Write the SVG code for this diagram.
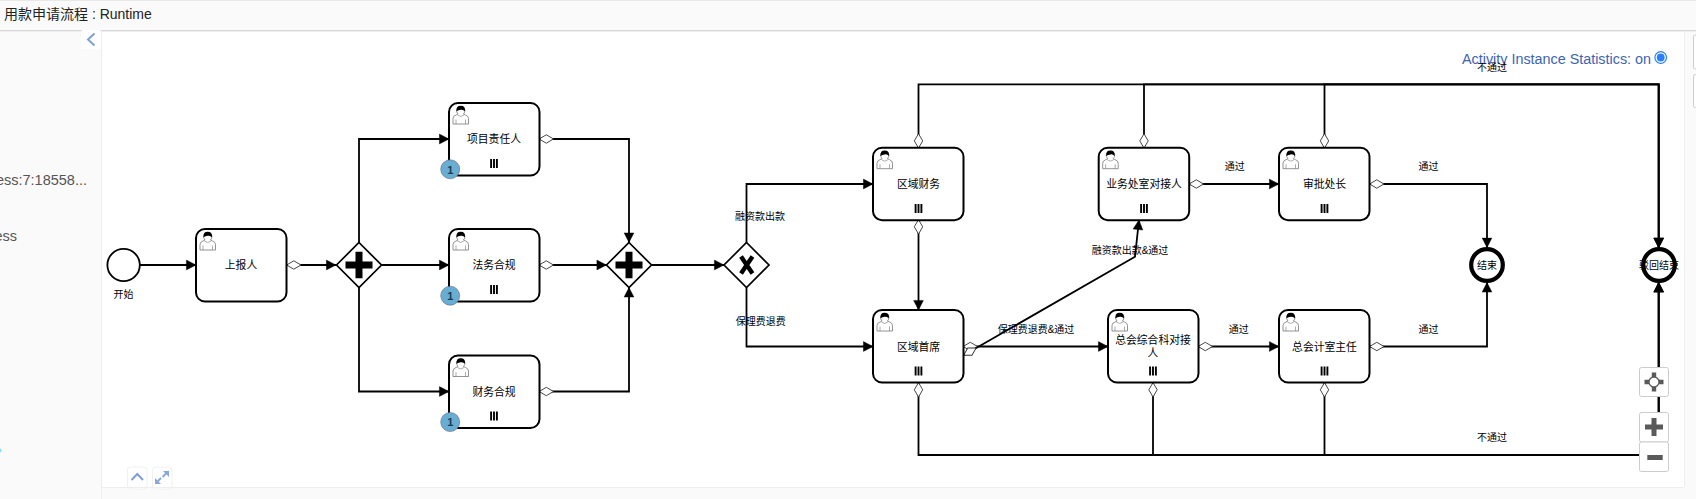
<svg xmlns="http://www.w3.org/2000/svg" xmlns:xlink="http://www.w3.org/1999/xlink" width="1696" height="499" viewBox="0 0 1696 499">
<style>
text{font-family:"Liberation Sans","Noto Sans CJK SC",sans-serif}
.t{font-size:10.8px;text-anchor:middle;dominant-baseline:central;fill:#000}
.l{font-size:10px;text-anchor:middle;dominant-baseline:central;fill:#000}
.box{fill:#fff;stroke:#000;stroke-width:2}
.f{fill:none;stroke:#000;stroke-width:1.8;stroke-linejoin:miter}
.a{marker-end:url(#arr)}
.d{marker-start:url(#dia)}
.gw{fill:#fff;stroke:#000;stroke-width:1.7}
.btn{fill:#fff;stroke:#ccc;stroke-width:1}
.fa{fill:#fff;stroke:#f0f0f0;stroke-width:1}
.chev{fill:none;stroke:#7f9fd8;stroke-width:2}
.panel{fill:#fafafa}
.side{font-size:14.5px;fill:#555}
</style>
<defs>
<marker id="arr" markerUnits="userSpaceOnUse" markerWidth="12" markerHeight="12" refX="10" refY="6" orient="auto" overflow="visible"><path d="M0.4 1.1L10 6L0.4 10.9Z" fill="#000" stroke="#000" stroke-width="0.4"/></marker>
<marker id="dia" markerUnits="userSpaceOnUse" markerWidth="16" markerHeight="10" refX="1" refY="5" orient="auto" overflow="visible"><path d="M0.6 5L7.8 0.8L15 5L7.8 9.2Z" fill="#fff" stroke="#333" stroke-width="0.9"/></marker>
<g id="user">
<path d="M0.5 18V12.5Q0.5 10 3.5 9L5.5 8Q3.8 6 4 4Q4.5 0.5 8.2 0.5Q12 0.5 12.5 4Q12.7 6 11 8L13 9Q16 10 16 12.5V18Z" fill="#fff" stroke="#777" stroke-width="0.8"/>
<path d="M4 5.2Q3.6 -0.2 8.2 -0.2Q12.9 -0.2 12.5 5.2Q10.5 3.2 8.2 3.8Q6 4.2 4 5.2Z" fill="#000"/>
<path d="M3.5 18V13.5M13 18V13.5M5 9Q8 12 11.5 9" fill="none" stroke="#888" stroke-width="0.7"/>
</g>
<g id="pm"><path d="M-2.9 0V9M0 0V9M2.9 0V9" stroke="#000" stroke-width="1.9" fill="none"/></g>
</defs>

<rect width="1696" height="499" fill="#fff"/>
<g id="chrome">
<rect x="0" y="0" width="1696" height="30" class="panel"/>
<rect x="0" y="0" width="1696" height="1" fill="#e8e8e8"/>
<rect x="0" y="30" width="1696" height="1" fill="#d8d8d8"/>
<rect x="0" y="31" width="1696" height="1" fill="#efefef"/>
<rect x="0" y="32" width="101" height="467" class="panel"/>
<rect x="101" y="32" width="1" height="467" fill="#eee"/>
<rect x="102" y="487" width="1582" height="12" class="panel"/>
<rect x="1684" y="32" width="12" height="467" class="panel"/>
<rect x="1684" y="32" width="1" height="455" fill="#eee"/>
<rect x="1693.5" y="35" width="6" height="34" rx="2" class="btn"/>
<rect x="1693.5" y="74.5" width="6" height="33" rx="2" class="btn"/>
<rect x="81" y="30" width="20" height="19" rx="2" fill="#fff"/>
<path class="chev" d="M94.5 33.5L88 39.5L94.5 45.5"/>
<circle cx="-0.5" cy="450.5" r="2" fill="#8ad8ff"/>
<text x="4" y="19" font-size="14" fill="#222">用款申请流程 : Runtime</text>
<text x="87" y="185" text-anchor="end" class="side">ess:7:18558...</text>
<text x="17" y="241" text-anchor="end" class="side">ess</text>
<rect x="127.5" y="467" width="19.5" height="22" rx="3" class="fa"/>
<rect x="152.5" y="467" width="19.5" height="22" rx="3" class="fa"/>
<rect x="102" y="487" width="1582" height="1" fill="#eee"/>
<path class="chev" d="M131.5 480L137.3 474L143 480"/>
<path d="M162.5 477L167 472.5" stroke="#8aa8dc" stroke-width="2" fill="none"/>
<path d="M163 471H169V477Z" fill="#8aa8dc"/>
<path d="M161 478L156.5 482.5" stroke="#8aa8dc" stroke-width="2" fill="none"/>
<path d="M155 478V484H161Z" fill="#8aa8dc"/>
<text x="1462" y="63.5" font-size="14" fill="#3d64b4" textLength="189" lengthAdjust="spacingAndGlyphs">Activity Instance Statistics: on</text>
<circle cx="1660.7" cy="57.5" r="5.8" fill="#fff" stroke="#2a7fff" stroke-width="1.2"/>
<circle cx="1660.7" cy="57.5" r="3.9" fill="#2a7fff"/>
</g>

<g id="connectors">
<path class="f a" d="M140 265H196"/>
<path class="f d a" d="M287 265H336"/>
<path class="f a" d="M359 242.5V139H449"/>
<path class="f a" d="M381.5 265H449"/>
<path class="f a" d="M359 287.5V391.5H449"/>
<path class="f d a" d="M539.5 139H629V242.5"/>
<path class="f d a" d="M539.5 265H606.5"/>
<path class="f d a" d="M539.5 391.5H629V287.5"/>
<path class="f a" d="M651.5 265H724"/>
<path class="f a" d="M746.5 242.5V184H873"/>
<path class="f a" d="M746.5 287.5V346.5H873"/>
<path class="f d a" d="M918.5 220V310"/>
<path class="f d a" d="M963.5 346.5H1108"/>
<path class="f d a" d="M964 355L1135 256.7L1139 220"/>
<path class="f d a" d="M1189.5 184H1279"/>
<path class="f d a" d="M1198.5 346.5H1279"/>
<path class="f d a" d="M1370 184H1487V247.7"/>
<path class="f d a" d="M1370 346.5H1487V282.5"/>
<path class="f d a" d="M918.5 147.7V84.3H1658.7V247.7"/>
<path class="f d a" d="M1144 147.7V84.3H1658.7V247.7"/>
<path class="f d a" d="M1324.5 147.7V84.3H1658.7V247.7"/>
<path class="f d a" d="M918.5 383V455H1658.7V282.5"/>
<path class="f d a" d="M1153 383V455H1658.7V282.5"/>
<path class="f d a" d="M1324.5 383V455H1658.7V282.5"/>
<text class="l" x="760" y="216.7">融资款出款</text>
<text class="l" x="760.7" y="321.7">保理费退费</text>
<text class="l" x="1036" y="329.7">保理费退费&amp;通过</text>
<text class="l" x="1130" y="250.7">融资款出款&amp;通过</text>
<text class="l" x="1234.7" y="166.7">通过</text>
<text class="l" x="1428.5" y="166.7">通过</text>
<text class="l" x="1238.7" y="329.7">通过</text>
<text class="l" x="1428.5" y="329.7">通过</text>
<text class="l" x="1492" y="67.7">不通过</text>
<text class="l" x="1492" y="437.7">不通过</text>
</g>

<g id="start"><circle cx="123.6" cy="265" r="16.2" fill="#fff" stroke="#000" stroke-width="1.8"/><text class="l" x="123.6" y="294">开始</text></g>

<g id="task-report"><rect class="box" x="196" y="229" width="90.5" height="72.5" rx="9"/><use xlink:href="#user" href="#user" x="199.5" y="232"/><text class="t" x="241" y="265">上报人</text></g>

<g id="task-project"><rect class="box" x="449" y="103" width="90.5" height="72.5" rx="9"/><use xlink:href="#user" href="#user" x="452.5" y="106"/><text class="t" x="494" y="139">项目责任人</text><use xlink:href="#pm" href="#pm" x="494" y="159"/><circle cx="450.2" cy="169.3" r="9.5" fill="#68aed3" stroke="#668" stroke-width="0.6"/><text x="450.2" y="169.5" font-size="11" font-weight="bold" fill="#1d3c50" text-anchor="middle" dominant-baseline="central">1</text></g>

<g id="task-legal"><rect class="box" x="449" y="229" width="90.5" height="72.5" rx="9"/><use xlink:href="#user" href="#user" x="452.5" y="232"/><text class="t" x="494" y="265">法务合规</text><use xlink:href="#pm" href="#pm" x="494" y="285"/><circle cx="450.2" cy="295.7" r="9.5" fill="#68aed3" stroke="#668" stroke-width="0.6"/><text x="450.2" y="296" font-size="11" font-weight="bold" fill="#1d3c50" text-anchor="middle" dominant-baseline="central">1</text></g>

<g id="task-finance"><rect class="box" x="449" y="355.5" width="90.5" height="72.5" rx="9"/><use xlink:href="#user" href="#user" x="452.5" y="358.5"/><text class="t" x="494" y="391.5">财务合规</text><use xlink:href="#pm" href="#pm" x="494" y="411.5"/><circle cx="450.2" cy="422" r="9.5" fill="#68aed3" stroke="#668" stroke-width="0.6"/><text x="450.2" y="422.3" font-size="11" font-weight="bold" fill="#1d3c50" text-anchor="middle" dominant-baseline="central">1</text></g>

<g id="gw-fork"><path class="gw" d="M359 242.5L381.5 265L359 287.5L336.5 265Z"/><path d="M345.5 265H372.5M359 251.7V278.3" stroke="#000" stroke-width="7" fill="none"/></g>
<g id="gw-join"><path class="gw" d="M629 242.5L651.5 265L629 287.5L606.5 265Z"/><path d="M615.5 265H642.5M629 251.7V278.3" stroke="#000" stroke-width="7" fill="none"/></g>
<g id="gw-xor"><path class="gw" d="M746.5 242.5L769 265L746.5 287.5L724 265Z"/><path d="M741 256.5L752.5 273.5M752.5 256.5L741 273.5" stroke="#000" stroke-width="4.4" fill="none"/></g>

<g id="task-area-finance"><rect class="box" x="873" y="147.7" width="90.5" height="72.5" rx="9"/><use xlink:href="#user" href="#user" x="876.5" y="150.7"/><text class="t" x="918.5" y="184">区域财务</text><use xlink:href="#pm" href="#pm" x="918.5" y="204"/></g>
<g id="task-area-chief"><rect class="box" x="873" y="310" width="90.5" height="72.5" rx="9"/><use xlink:href="#user" href="#user" x="876.5" y="313"/><text class="t" x="918.5" y="346.5">区域首席</text><use xlink:href="#pm" href="#pm" x="918.5" y="366.5"/></g>
<g id="task-biz"><rect class="box" x="1098.7" y="147.7" width="90.5" height="72.5" rx="9"/><use xlink:href="#user" href="#user" x="1102.2" y="150.7"/><text class="t" x="1144" y="184">业务处室对接人</text><use xlink:href="#pm" href="#pm" x="1144" y="204"/></g>
<g id="task-approve"><rect class="box" x="1279" y="147.7" width="90.5" height="72.5" rx="9"/><use xlink:href="#user" href="#user" x="1282.5" y="150.7"/><text class="t" x="1324.5" y="184">审批处长</text><use xlink:href="#pm" href="#pm" x="1324.5" y="204"/></g>
<g id="task-general"><rect class="box" x="1108" y="310" width="90.5" height="72.5" rx="9"/><use xlink:href="#user" href="#user" x="1111.5" y="313"/><text class="t" x="1153" y="339.5">总会综合科对接</text><text class="t" x="1153" y="353">人</text><use xlink:href="#pm" href="#pm" x="1153" y="366.5"/></g>
<g id="task-accounting"><rect class="box" x="1279" y="310" width="90.5" height="72.5" rx="9"/><use xlink:href="#user" href="#user" x="1282.5" y="313"/><text class="t" x="1324.5" y="346.5">总会计室主任</text><use xlink:href="#pm" href="#pm" x="1324.5" y="366.5"/></g>

<g id="end-ok"><circle cx="1487" cy="265" r="15.8" fill="#fff" stroke="#000" stroke-width="4.2"/><text class="l" x="1487" y="265">结束</text></g>
<g id="end-reject"><circle cx="1659" cy="265" r="15.8" fill="#fff" stroke="#000" stroke-width="4.2"/><text class="l" x="1659" y="265">驳回结束</text></g>

<g id="zoom-controls">
<rect class="btn" x="1639.5" y="367.5" width="29" height="29" rx="2"/>
<path d="M1644.5 382H1663.5M1654 372.5V391.5" stroke="#5a5a5a" stroke-width="4.4" fill="none"/>
<circle cx="1654" cy="382" r="5" fill="#fff" stroke="#5a5a5a" stroke-width="1.3"/>
<circle cx="1654" cy="382" r="2.8" fill="#fff"/>
<rect class="btn" x="1639.5" y="412.5" width="29" height="29.5" rx="2"/>
<path d="M1645 427H1663M1654 418V436" stroke="#5a5a5a" stroke-width="5" fill="none"/>
<rect class="btn" x="1639.5" y="442" width="29" height="29.5" rx="2"/>
<path d="M1647.3 457.5H1662.7" stroke="#5a5a5a" stroke-width="5" fill="none"/>
</g>
</svg>
